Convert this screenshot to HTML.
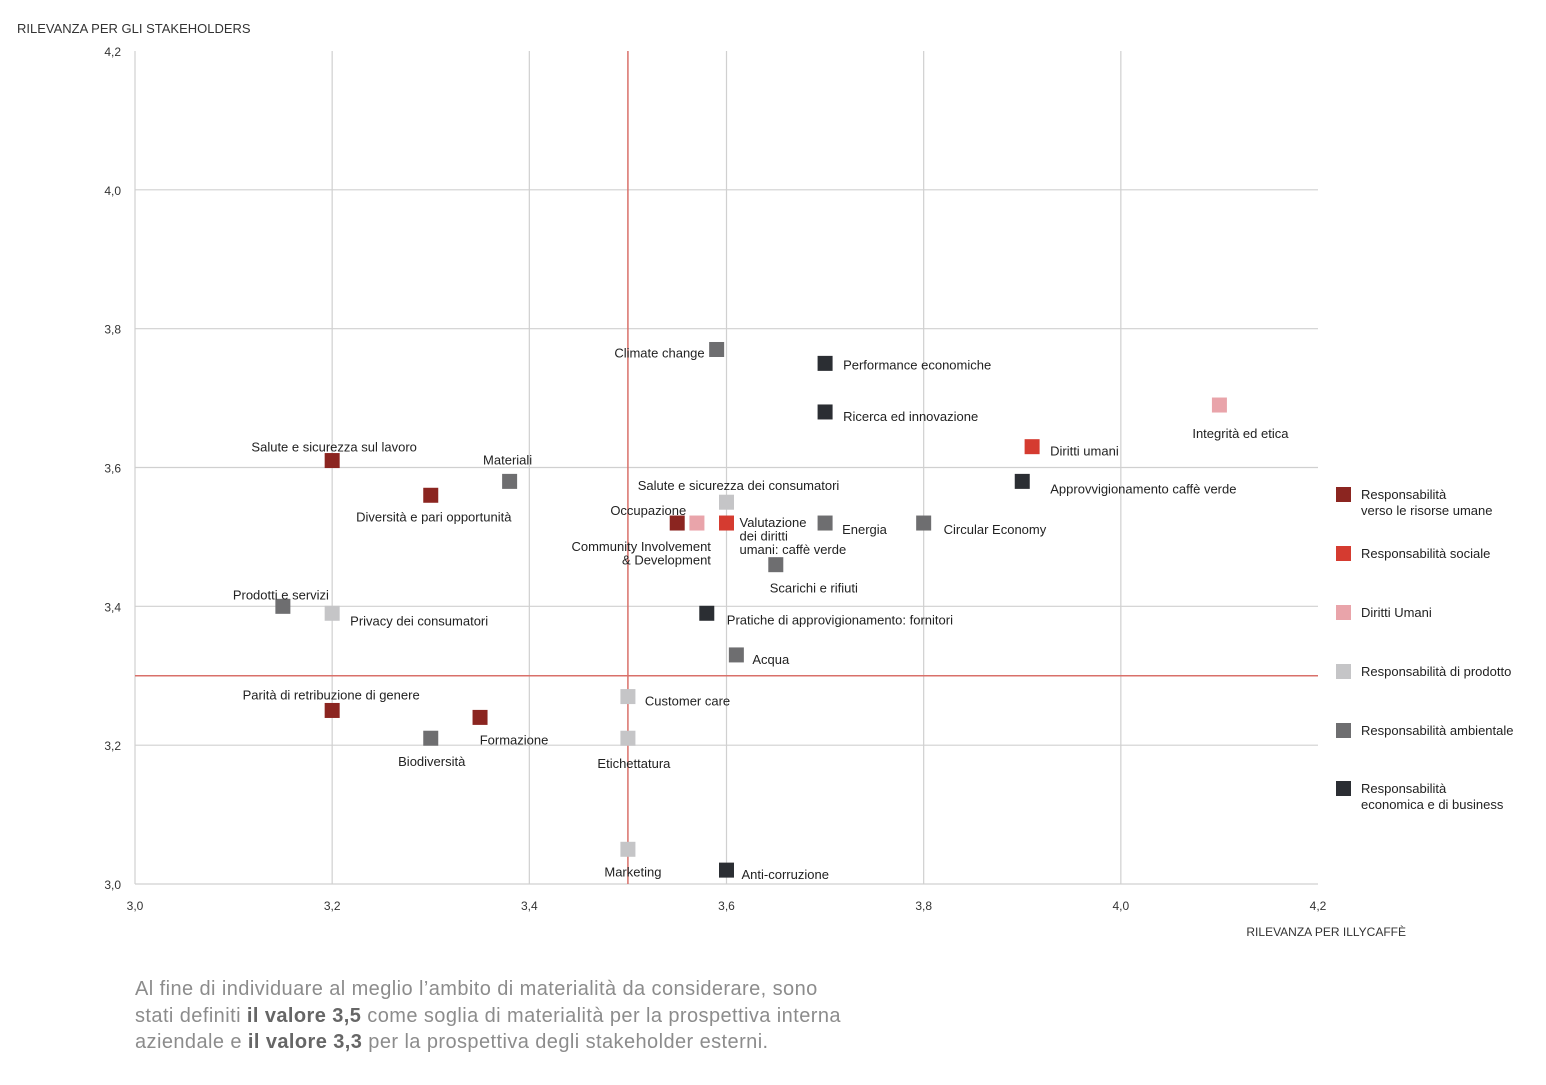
<!DOCTYPE html>
<html><head><meta charset="utf-8">
<style>
html,body{margin:0;padding:0;background:#fff;}
body{width:1546px;height:1085px;overflow:hidden;font-family:"Liberation Sans",sans-serif;}
svg text{font-family:"Liberation Sans",sans-serif;}
.p{position:absolute;left:135px;top:976px;font-size:20px;letter-spacing:0.42px;line-height:26.5px;color:#8c8c8c;white-space:nowrap;}
.p b{color:#666;font-weight:bold;}
</style></head>
<body>
<svg id="chart" width="1546" height="960" style="position:absolute;left:0;top:0">
<text x="17" y="33" font-size="13" fill="#333">RILEVANZA PER GLI STAKEHOLDERS</text>
<text x="1406" y="936" font-size="12" fill="#333" text-anchor="end">RILEVANZA PER ILLYCAFFÈ</text>
<g id="grid"></g><g id="pts"></g><g id="legend"></g>
</svg>
<div class="p">Al fine di individuare al meglio l’ambito di materialità da considerare, sono<br>stati definiti <b>il valore 3,5</b> come soglia di materialità per la prospettiva interna<br>aziendale e <b>il valore 3,3</b> per la prospettiva degli stakeholder esterni.</div>
<script>
const xTicks=[3.0,3.2,3.4,3.6,3.8,4.0,4.2];
const yTicks=[3.0,3.2,3.4,3.6,3.8,4.0,4.2];
const thresholdX=3.5;
const thresholdY=3.3;
const names=["Climate change","Performance economiche","Ricerca ed innovazione","Integrità ed etica","Diritti umani","Approvvigionamento caffè verde","Salute e sicurezza sul lavoro","Materiali","Diversità e pari opportunità","Salute e sicurezza dei consumatori","Occupazione","Community Involvement|& Development","Valutazione|dei diritti|umani: caffè verde","Energia","Circular Economy","Scarichi e rifiuti","Pratiche di approvigionamento: fornitori","Prodotti e servizi","Privacy dei consumatori","Acqua","Customer care","Parità di retribuzione di genere","Formazione","Biodiversità","Etichettatura","Marketing","Anti-corruzione"];
const xVals=[3.59,3.70,3.70,4.10,3.91,3.90,3.20,3.38,3.30,3.60,3.55,3.57,3.60,3.70,3.80,3.65,3.58,3.15,3.20,3.61,3.50,3.20,3.35,3.30,3.50,3.50,3.60];
const yVals=[3.77,3.75,3.68,3.69,3.63,3.58,3.61,3.58,3.56,3.55,3.52,3.52,3.52,3.52,3.52,3.46,3.39,3.40,3.39,3.33,3.27,3.25,3.24,3.21,3.21,3.05,3.02];
const cats=[4,5,5,2,1,5,0,4,0,3,0,2,1,4,4,4,5,4,3,4,3,0,0,4,3,3,5];
const catNames=["Responsabilità|verso le risorse umane","Responsabilità sociale","Diritti Umani","Responsabilità di prodotto","Responsabilità ambientale","Responsabilità|economica e di business"];
const catColors=["#8b2520","#d53b30","#e9a4aa","#c5c5c7","#6e6e70","#2b2e33"];
const lab=[[-12,4,"end"],[18,2,"start"],[18,5,"start"],[21,29,"middle"],[18,5,"start"],[28,8,"start"],[2,-13,"middle"],[-2,-21,"middle"],[3,22,"middle"],[12,-16,"middle"],[9,-12,"end"],[14,24,"end"],[13,-0,"start"],[17,7,"start"],[20,7,"start"],[38,24,"middle"],[20,7,"start"],[-2,-11,"middle"],[18,8,"start"],[16,5,"start"],[17,5,"start"],[-1,-15,"middle"],[34,23,"middle"],[1,24,"middle"],[6,26,"middle"],[5,23,"middle"],[15,5,"start"]];
const X0=135,X1=1318,Y0=884,Y1=51;
const sx=v=>X0+(v-3.0)/(4.2-3.0)*(X1-X0);
const sy=v=>Y0-(v-3.0)/(4.2-3.0)*(Y0-Y1);
const NS="http://www.w3.org/2000/svg";
function mk(tag,at,parent,txt){const e=document.createElementNS(NS,tag);for(const k in at)e.setAttribute(k,at[k]);if(txt!==undefined)e.textContent=txt;parent.appendChild(e);return e;}
const grid=document.getElementById('grid'),pts=document.getElementById('pts'),leg=document.getElementById('legend');
xTicks.forEach((t,i)=>{
 if(i<xTicks.length-1){
 const l=mk('line',{x1:sx(t),x2:sx(t),y1:Y1,y2:Y0,stroke:'#d0d0d0','stroke-width':1.2},grid);
 
 
 }
 const tx=mk('text',{x:sx(t),y:Y0+26,'font-size':12,fill:'#333','text-anchor':'middle'},grid,t.toFixed(1).replace('.',','));
 
 
});
yTicks.forEach((t,i)=>{
 if(i<yTicks.length-1){
 const l=mk('line',{x1:X0,x2:X1,y1:sy(t),y2:sy(t),stroke:'#d0d0d0','stroke-width':1.2},grid);
 
 
 }
 const tx=mk('text',{x:121,y:sy(t)+5,'font-size':12,fill:'#333','text-anchor':'end'},grid,t.toFixed(1).replace('.',','));
 
 
});
const tvx=mk('line',{x1:sx(thresholdX),x2:sx(thresholdX),y1:Y1,y2:Y0,stroke:'#d9706a','stroke-width':1.5},grid);


const tvy=mk('line',{x1:X0,x2:X1,y1:sy(thresholdY),y2:sy(thresholdY),stroke:'#d9706a','stroke-width':1.5},grid);


names.forEach((n,i)=>{
 const cx=sx(xVals[i]),cy=sy(yVals[i]);
 const r=mk('rect',{x:cx-7.5,y:cy-7.5,width:15,height:15,fill:catColors[cats[i]]},pts);
 
 
 const [dx,dy,an]=lab[i];const lines=n.split('|');
 const t=mk('text',{x:cx+dx,y:cy+dy+4,'font-size':13,fill:'#222','text-anchor':an},pts);
 
 
 lines.forEach((s,j)=>mk('tspan',{x:cx+dx,dy:j?13.5:0},t,s));
});
const legY=[494,553,612,671,730,788];
catNames.forEach((n,i)=>{
 const r=mk('rect',{x:1336,y:legY[i]-7,width:15,height:15,fill:catColors[i]},leg);
 
 
 const t=mk('text',{x:1361,y:legY[i]+5,'font-size':13,fill:'#222'},leg);
 
 
 n.split('|').forEach((s,j)=>mk('tspan',{x:1361,dy:j?16:0},t,s));
});
</script>
</body></html>
